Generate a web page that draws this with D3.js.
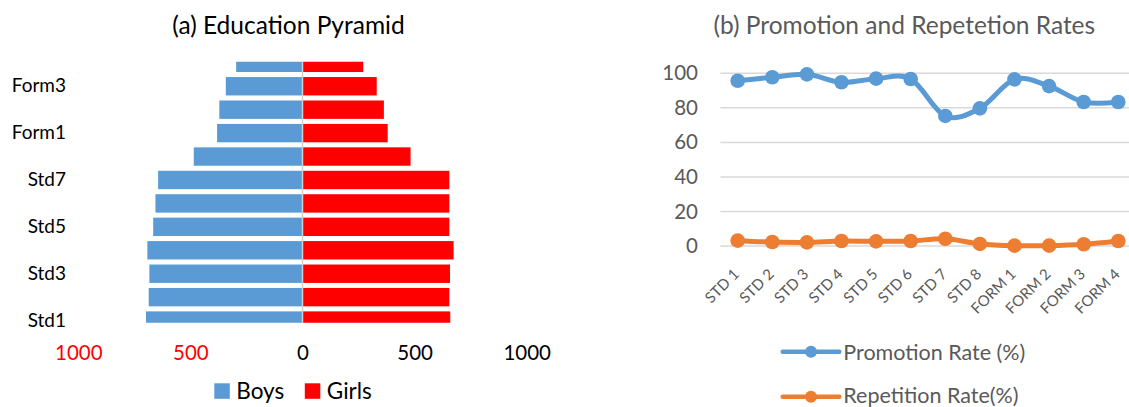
<!DOCTYPE html>
<html>
<head>
<meta charset="utf-8">
<script src="https://cdn.jsdelivr.net/npm/d3@7"></script>
<style>
  body { margin: 0; background: #fff; }
  svg { display: block; font-family: Lato, "Open Sans", sans-serif; }
</style>
</head>
<body>
<svg id="chart" width="1129" height="407"></svg>
<script>
// ---- (a) enrolment by grade ----
const grades = ["Std1", "Std2", "Std3", "Std4", "Std5", "Std6", "Std7", "Std8",
                "Form1", "Form2", "Form3", "Form4"];
const boys  = [698, 686, 683, 692, 666, 656, 644, 485, 381, 371, 342, 296];
const girls = [659, 655, 658, 674, 655, 655, 655, 482, 380, 363, 331, 271];
const pyramidTicks = [-1000, -500, 0, 500, 1000];

// ---- (b) promotion / repetition by level ----
const levels = ["STD 1", "STD 2", "STD 3", "STD 4", "STD 5", "STD 6", "STD 7", "STD 8",
                "FORM 1", "FORM 2", "FORM 3", "FORM 4"];
const promotion  = [95.7, 97.7, 99.4, 94.8, 96.9, 96.7, 75.3, 79.7, 96.5, 92.6, 83.4, 83.4];
const repetition = [3.1, 2.3, 2.1, 2.9, 2.7, 2.9, 4.2, 1.2, 0.2, 0.2, 1.0, 2.9];
const rateTicks = [0, 20, 40, 60, 80, 100];

const BLUE = "#5b9bd5", RED = "#ff0000", ORANGE = "#ed7d31", GREY = "#595959", GRID = "#d9d9d9";

const svg = d3.select("#chart");

// =============== Education pyramid ===============
const px = d3.scaleLinear().domain([-1000, 1000]).range([78.3, 526.7]);
const py = d3.scaleBand().domain(grades).range([332.3, 51.1])
  .paddingInner(0.215).paddingOuter(0.1075);

svg.append("defs").append("clipPath").attr("id", "pyrClip")
  .append("rect").attr("x", 0).attr("y", 61.7).attr("width", 560).attr("height", 261);

const pyr = svg.append("g");

pyr.append("text")
  .attr("x", 288.5).attr("y", 34)
  .attr("text-anchor", "middle")
  .attr("font-size", 24.5).attr("fill", "#000")
  .text("(a) Education Pyramid");

const bars = pyr.append("g").attr("clip-path", "url(#pyrClip)");

bars.selectAll("rect.boys").data(grades).join("rect")
  .attr("class", "boys")
  .attr("x", (d, i) => px(-boys[i]))
  .attr("y", d => py(d))
  .attr("width", (d, i) => px(0) - px(-boys[i]))
  .attr("height", py.bandwidth())
  .attr("fill", BLUE);

bars.selectAll("rect.girls").data(grades).join("rect")
  .attr("class", "girls")
  .attr("x", px(0))
  .attr("y", d => py(d))
  .attr("width", (d, i) => px(girls[i]) - px(0))
  .attr("height", py.bandwidth())
  .attr("fill", RED);

// vertical zero line
pyr.append("line")
  .attr("x1", px(0)).attr("x2", px(0))
  .attr("y1", 61.7).attr("y2", 322.7)
  .attr("stroke", "#d0d0d0").attr("stroke-width", 1.5);

// category labels (every other grade)
const yAxisA = pyr.append("g").attr("transform", "translate(66,0)")
  .call(d3.axisLeft(py).tickValues(grades.filter((d, i) => i % 2 === 0))
    .tickSize(0).tickPadding(0));
yAxisA.select(".domain").remove();
yAxisA.selectAll("text").attr("font-size", 19).attr("font-family", "Lato, sans-serif")
  .attr("fill", "#000");

// value axis
const xAxisA = pyr.append("g").attr("transform", "translate(0,340)")
  .call(d3.axisBottom(px).tickValues(pyramidTicks).tickFormat(d => Math.abs(d))
    .tickSize(0).tickPadding(5));
xAxisA.select(".domain").remove();
xAxisA.selectAll("text").attr("font-size", 20.5).attr("font-family", "Lato, sans-serif")
  .attr("fill", d => d < 0 ? RED : "#000");

// legend
const legA = pyr.append("g");
[["Boys", BLUE, 214.3], ["Girls", RED, 304.8]].forEach(([name, col, x0]) => {
  legA.append("rect").attr("x", x0).attr("y", 383.3).attr("width", 15.5).attr("height", 15.5)
    .attr("fill", col);
  legA.append("text").attr("x", x0 + 22).attr("y", 398.5).attr("font-size", 22.5)
    .attr("fill", "#000").text(name);
});

// =============== Promotion and repetition rates ===============
const rx = d3.scaleBand().domain(levels).range([720.4, 1135.6]);
const ry = d3.scaleLinear().domain([0, 100]).range([246, 73.3]);
const cx = d => rx(d) + rx.bandwidth() / 2;

const rates = svg.append("g");

rates.append("text")
  .attr("x", 904.3).attr("y", 33.5)
  .attr("text-anchor", "middle")
  .attr("font-size", 24.5).attr("fill", GREY)
  .text("(b) Promotion and Repetetion Rates");

rates.append("g").selectAll("line").data(rateTicks).join("line")
  .attr("x1", 720.4).attr("x2", 1135.6)
  .attr("y1", d => ry(d)).attr("y2", d => ry(d))
  .attr("stroke", GRID).attr("stroke-width", 1.5);

const yAxisB = rates.append("g").attr("transform", "translate(705,0)")
  .call(d3.axisLeft(ry).tickValues(rateTicks).tickSize(0).tickPadding(7));
yAxisB.select(".domain").remove();
yAxisB.selectAll("text").attr("font-size", 20.5).attr("font-family", "Lato, sans-serif")
  .attr("fill", GREY);

rates.append("g").selectAll("text").data(levels).join("text")
  .attr("transform", d => `translate(${cx(d) + 2.5},275) rotate(-45)`)
  .attr("text-anchor", "end")
  .attr("font-size", 15).attr("fill", GREY)
  .text(d => d);

const line = d3.line().x((d, i) => cx(levels[i])).y(d => ry(d))
  .curve(d3.curveCardinal.tension(0));

[[promotion, BLUE], [repetition, ORANGE]].forEach(([vals, col]) => {
  rates.append("path").datum(vals)
    .attr("d", line)
    .attr("fill", "none").attr("stroke", col)
    .attr("stroke-width", 5).attr("stroke-linejoin", "round").attr("stroke-linecap", "round");
  rates.append("g").selectAll("circle").data(vals).join("circle")
    .attr("cx", (d, i) => cx(levels[i])).attr("cy", d => ry(d))
    .attr("r", 7.3).attr("fill", col);
});

// legend
[["Promotion Rate (%)", BLUE, 351.7, 359.5], ["Repetition Rate(%)", ORANGE, 396.7, 402.8]].forEach(([name, col, yy, base]) => {
  rates.append("line").attr("x1", 782.7).attr("x2", 839.3).attr("y1", yy).attr("y2", yy)
    .attr("stroke", col).attr("stroke-width", 4.5).attr("stroke-linecap", "round");
  rates.append("circle").attr("cx", 811).attr("cy", yy).attr("r", 6).attr("fill", col);
  rates.append("text").attr("x", 843.3).attr("y", base).attr("font-size", 21.5)
    .attr("fill", GREY).text(name);
});
</script>
</body>
</html>
